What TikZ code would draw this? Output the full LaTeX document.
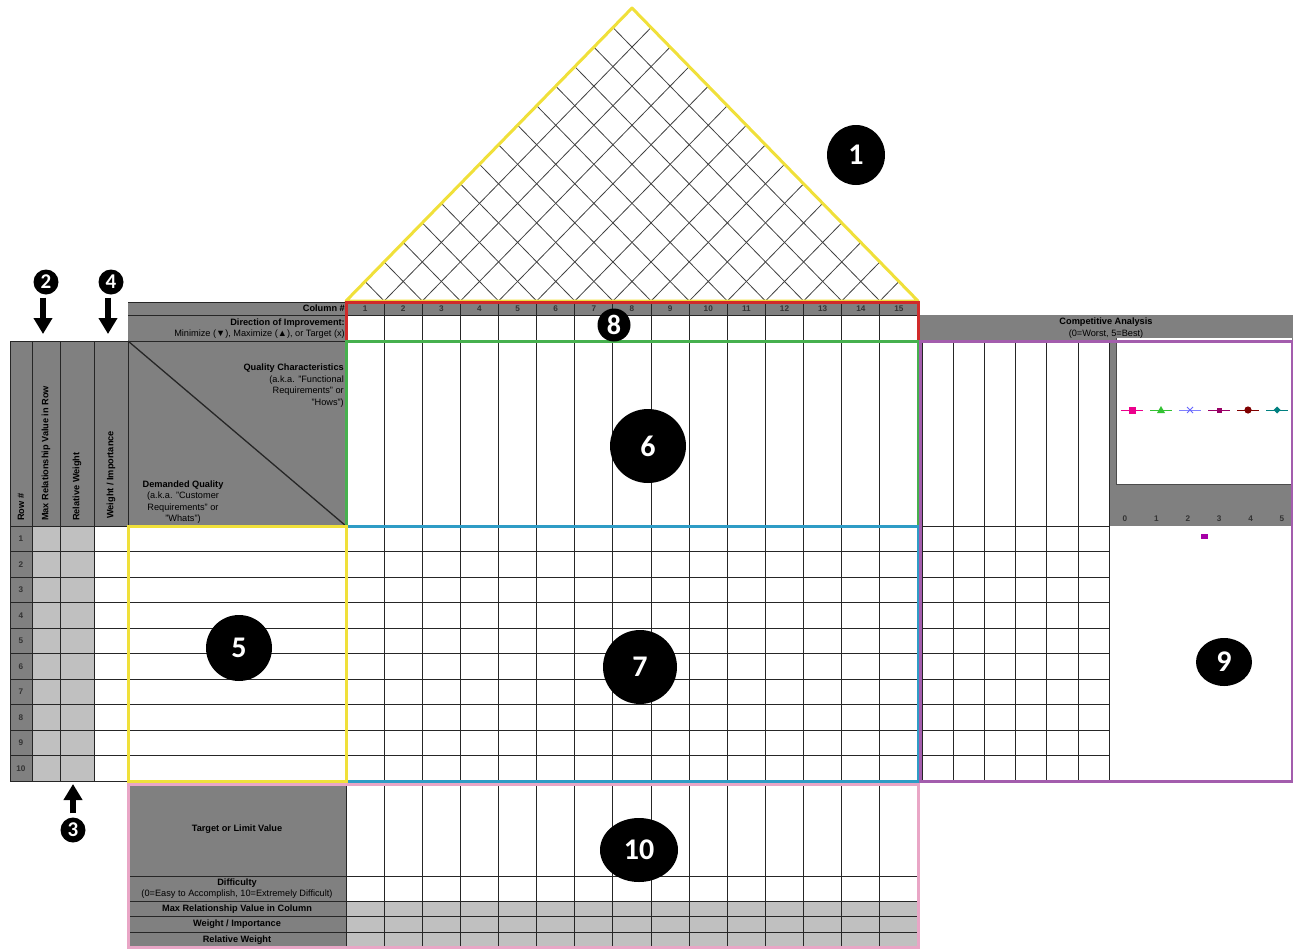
\documentclass[tikz,border=0pt]{standalone}
\usepackage{fontspec}
\setmainfont{Liberation Sans}
\newfontfamily\badgefont{Carlito}
\usepackage{tikz}
\usetikzlibrary{arrows.meta, positioning, shapes.geometric}
\definecolor{roofyellow}{HTML}{F0E03A}
\definecolor{colred}{HTML}{D02A2A}
\definecolor{hqgreen}{HTML}{46B04E}
\definecolor{relcyan}{HTML}{2E9CC6}
\definecolor{techpink}{HTML}{E9A6C6}
\definecolor{comppurple}{HTML}{A35DAD}
\definecolor{hdrgray}{HTML}{808080}
\definecolor{cellgray}{HTML}{C0C0C0}

\begin{document}
\begin{tikzpicture}[x=1pt, y=-1pt, font=\fontsize{9.2}{11}\selectfont,
    grid/.style={black!85, line width=1pt},
    lbl/.style={font=\fontsize{9.2}{11}\selectfont\bfseries},
    num/.style={font=\fontsize{8.2}{9}\selectfont\bfseries, text=black!80},
    frame/.style={line width=3pt},
    badge/.style={ellipse, fill=black, text=white, inner sep=0pt,
        font=\badgefont\bfseries\fontsize{30}{30}\selectfont},
    minibadge/.style={badge, minimum size=25pt,
        font=\badgefont\bfseries\fontsize{21}{21}\selectfont},
    fatarrow/.style={line width=5.5pt, -{Triangle[width=18pt,length=16pt]}}]
    \useasboundingbox (0,0) rectangle (1293,948);
    \pgfmathsetmacro{\cw}{572/15}
    \pgfmathsetmacro{\rh}{25.5}
    \pgfmathsetmacro{\rf}{293/286}

    % ── (1) Roof ──────────────────────────────────────────────────────
    \foreach \k in {1,...,14}{
        \pgfmathsetmacro{\xk}{346 + \k*\cw}
        \draw[black!75, line width=0.8pt] ({(\xk+918)/2}, {301 - \rf*(918-\xk)/2}) -- (\xk, 301)
            -- ({(346+\xk)/2}, {301 - \rf*(\xk-346)/2});
    }
    \draw[frame, roofyellow, line join=round] (346,301) -- (632,8) -- (918,301) -- cycle;

    % ── gray fills ────────────────────────────────────────────────────
    \fill[hdrgray] (128,302) rectangle (918,315);
    \fill[hdrgray] (128,315) rectangle (346,341);
    \fill[hdrgray] (918,315) rectangle (1293,341);
    \fill[hdrgray] (10,341) rectangle (346,526);
    \fill[hdrgray] (10,526) rectangle (32,781);
    \fill[cellgray] (32,526) rectangle (94,781);
    \fill[hdrgray] (1109,341) rectangle (1293,526);
    \fill[hdrgray] (128,784) rectangle (346,947);
    \fill[cellgray] (346,901) rectangle (918,947);

    % ── grid lines ────────────────────────────────────────────────────
    \foreach \x in {10,32,60,94,128}
        \draw[grid] (\x,341) -- (\x,781);
    \draw[grid] (10,341) -- (128,341);
    \foreach \r in {0,...,10}
        \draw[grid] (10,{526+\r*\rh}) -- (918,{526+\r*\rh});
    \foreach \y in {302,315,341}
        \draw[grid] (128,\y) -- (918,\y);
    \foreach \k in {0,...,15}
        \draw[grid] ({346+\k*\cw},302) -- ({346+\k*\cw},947);
    \foreach \y in {876,901,916,932,947}
        \draw[grid] (128,\y) -- (918,\y);
    \draw[grid, line width=1.3pt] (128,341) -- (346,526);
    % competitive analysis columns
    \foreach \j in {0,...,6}
        \draw[grid] ({922+\j*31.2},341) -- ({922+\j*31.2},781);
    \foreach \r in {0,...,10}
        \draw[grid] (922,{526+\r*\rh}) -- (1109,{526+\r*\rh});

    % ── header texts ──────────────────────────────────────────────────
    \node[lbl, anchor=east, inner sep=1pt] (colhdr) at (346,308.5) {Column \#};
    \node[anchor=east, align=right, inner sep=1pt] (dirhdr) at (346,328.5)
        {\textbf{Direction of Improvement:}\\Minimize (▼), Maximize (▲), or Target (x)};
    \foreach \i in {1,...,15}
        \node[num] (col\i) at ({346+(\i-0.5)*\cw},308.5) {\i};
    \foreach \r in {1,...,10}
        \node[num] (row\r) at (21,{526+(\r-0.5)*\rh}) {\r};
    \node[lbl, rotate=90, anchor=west, inner sep=1pt] (rowhdr) at (21,522) {Row \#};
    \node[lbl, rotate=90, anchor=west, inner sep=1pt] (maxrow) at (46,522) {Max Relationship Value in Row};
    \node[lbl, rotate=90, anchor=west, inner sep=1pt] (relrow) at (77,522) {Relative Weight};
    \node[lbl, rotate=90, anchor=west, inner sep=1pt] (wgtrow) at (111,520) {Weight / Importance};
    \node[anchor=north east, align=right, inner sep=1pt,
        font=\fontsize{9.2}{11.5}\selectfont] (hows) at (345,363)
        {\textbf{Quality Characteristics}\\(a.k.a. "Functional\\Requirements" or\\"Hows")};
    \node[anchor=south, align=center, inner sep=1pt,
        font=\fontsize{9.2}{11.5}\selectfont] (whats) at (183,525)
        {\textbf{Demanded Quality}\\(a.k.a. "Customer\\Requirements" or\\"Whats")};

    % ── bottom texts ──────────────────────────────────────────────────
    \node[lbl] (target) at (237,829) {Target or Limit Value};
    \node[align=center, font=\fontsize{9.2}{11}\selectfont] (diff) at (237,888.5)
        {\textbf{Difficulty}\\(0=Easy to Accomplish, 10=Extremely Difficult)};
    \node[lbl] (maxcol) at (237,909) {Max Relationship Value in Column};
    \node[lbl] (wgtcol) at (237,924.5) {Weight / Importance};
    \node[lbl] (relcol) at (237,940) {Relative Weight};

    % ── competitive analysis ──────────────────────────────────────────
    \node[lbl] (comp) at (1106,322.5) {Competitive Analysis};
    \node (scale) at (1106,334) {(0=Worst, 5=Best)};
    \fill[white] (1116,338) rectangle (1292,484);
    \draw[black!70, line width=1pt] (1116,338) -- (1116,484) -- (1292,484);
    \foreach \i in {0,...,5}
        \node[num] (ax\i) at ({1125+\i*31.4},519) {\i};
    \draw[magenta, line width=1pt] (1121,410) -- (1143,410);
    \fill[magenta] (1128.5,406.5) rectangle (1135.5,413.5);
    \draw[green!70!black!80, line width=1pt] (1150,410) -- (1172,410);
    \fill[green!70!black!80] (1161,406) -- (1165,413) -- (1157,413) -- cycle;
    \draw[blue!50, line width=1pt] (1179,410) -- (1201,410);
    \draw[blue!60, line width=1pt] (1187,407) -- (1193,413) (1187,413) -- (1193,407);
    \draw[violet!80!red, line width=1pt] (1208,410) -- (1230,410);
    \fill[violet!80!red] (1216.5,407.5) rectangle (1221.5,412.5);
    \draw[red!50!black, line width=1pt] (1237,410) -- (1259,410);
    \fill[red!50!black] (1248,410) circle (3.6);
    \draw[teal, line width=1pt] (1266,410) -- (1288,410);
    \fill[teal] (1277,406.5) -- (1280.5,410) -- (1277,413.5) -- (1273.5,410) -- cycle;
    \fill[violet!70!magenta] (1201,534) rectangle (1208,539);

    % ── coloured frames ───────────────────────────────────────────────
    \draw[frame, colred] (346,302) rectangle (918,341);
    \draw[frame, hqgreen] (346,341) rectangle (918,526);
    \draw[frame, relcyan] (346,526) rectangle (918,781);
    \draw[frame, roofyellow] (128,526) rectangle (346,781);
    \draw[frame, techpink] (128,784) rectangle (918,947);
    \draw[frame, comppurple] (920,341) rectangle (1292,781);

    % ── numbered badges ───────────────────────────────────────────────
    \node[badge, minimum width=58pt, minimum height=60pt] (b1) at (856,155) {1};
    \node[minibadge] (b2) at (46,282) {2};
    \node[minibadge] (b4) at (111,282) {4};
    \node[minibadge] (b3) at (73,830) {3};
    \node[badge, minimum size=66pt] (b5) at (239,648) {5};
    \node[badge, minimum width=76pt, minimum height=74pt] (b6) at (648,446) {6};
    \node[badge, minimum size=74pt] (b7) at (640,667) {7};
    \node[badge, minimum size=33pt, font=\badgefont\bfseries\fontsize{28}{28}\selectfont] (b8) at (614,325) {8};
    \node[badge, minimum width=56pt, minimum height=48pt] (b9) at (1224,662) {9};
    \node[badge, minimum width=78pt, minimum height=64pt] (b10) at (639,850) {10};

    \coordinate (t2) at (43,334);
    \coordinate (t4) at (108,334);
    \coordinate (t3) at (73,784);
    \draw[fatarrow, shorten <=3pt] (b2.south -| t2) -- (t2);
    \draw[fatarrow, shorten <=3pt] (b4.south -| t4) -- (t4);
    \draw[fatarrow, shorten <=4pt] (b3.north) -- (t3);
\end{tikzpicture}
\end{document}
